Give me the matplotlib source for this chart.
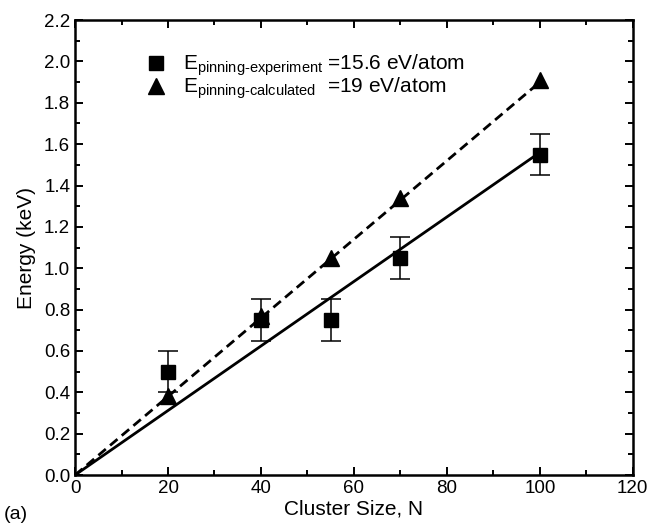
import matplotlib
matplotlib.use('Agg')
import matplotlib.pyplot as plt
from matplotlib.ticker import MultipleLocator, FormatStrFormatter
from matplotlib.lines import Line2D

plt.rcParams['font.family'] = ['Liberation Sans', 'DejaVu Sans']
plt.rcParams['mathtext.fontset'] = 'custom'
plt.rcParams['mathtext.rm'] = 'Liberation Sans'

# measured points
n_exp = [20, 40, 55, 70, 100]
e_exp = [0.50, 0.75, 0.75, 1.05, 1.55]
e_exp_err = [0.10, 0.10, 0.10, 0.10, 0.10]

n_calc = [20, 40, 55, 70, 100]
e_calc = [0.38, 0.77, 1.05, 1.34, 1.91]

# pinning energies, eV/atom -> slopes of the fit lines
slope_exp = 15.6
slope_calc = 19.0
n_fit = [0, 100]

lab_exp = '$\\mathregular{E_{pinning\u2010experiment}}$ =15.6 eV/atom'
lab_calc = '$\\mathregular{E_{pinning\u2010calculated}}$  =19 eV/atom'

fig = plt.figure(figsize=(6.47, 5.29), dpi=100)
ax = fig.add_axes([0.116, 0.102, 0.862, 0.860])

ax.plot(n_fit, [n * slope_exp / 1000 for n in n_fit], '-', color='black', lw=2)
ax.plot(n_fit, [n * slope_calc / 1000 for n in n_fit], '--', color='black', lw=2,
        dashes=(3.5, 2))

ax.errorbar(n_exp, e_exp, yerr=e_exp_err, fmt='s', color='black', ms=10,
            capsize=7, elinewidth=1.1, capthick=1.1, zorder=3)
ax.plot(n_calc, e_calc, '^', color='black', ms=11, zorder=4, linestyle='none')

ax.set_xlim(0, 120)
ax.set_ylim(0, 2.2)
ax.xaxis.set_major_locator(MultipleLocator(20))
ax.xaxis.set_minor_locator(MultipleLocator(10))
ax.yaxis.set_major_locator(MultipleLocator(0.2))
ax.yaxis.set_minor_locator(MultipleLocator(0.1))
ax.yaxis.set_major_formatter(FormatStrFormatter('%.1f'))
ax.tick_params(which='both', direction='in', top=True, right=True, labelsize=13.5)
ax.tick_params(which='major', length=6, width=1.4)
ax.tick_params(which='minor', length=3.5, width=1.4)
for s in ax.spines.values():
    s.set_linewidth(1.8)

ax.set_xlabel('Cluster Size, N', fontsize=15, labelpad=2)
ax.set_ylabel('Energy (keV)', fontsize=15, labelpad=6)
fig.text(0.006, 0.018, '(a)', fontsize=14)

handles = [Line2D([], [], marker='s', color='black', ls='none', ms=10),
           Line2D([], [], marker='^', color='black', ls='none', ms=11)]
ax.legend(handles, [lab_exp, lab_calc], loc='upper left', bbox_to_anchor=(0.097, 0.96),
          frameon=False, fontsize=15, handletextpad=0.7, labelspacing=-0.12,
          borderaxespad=0.3, handlelength=1.2)

fig.savefig('out.png', dpi=100)
